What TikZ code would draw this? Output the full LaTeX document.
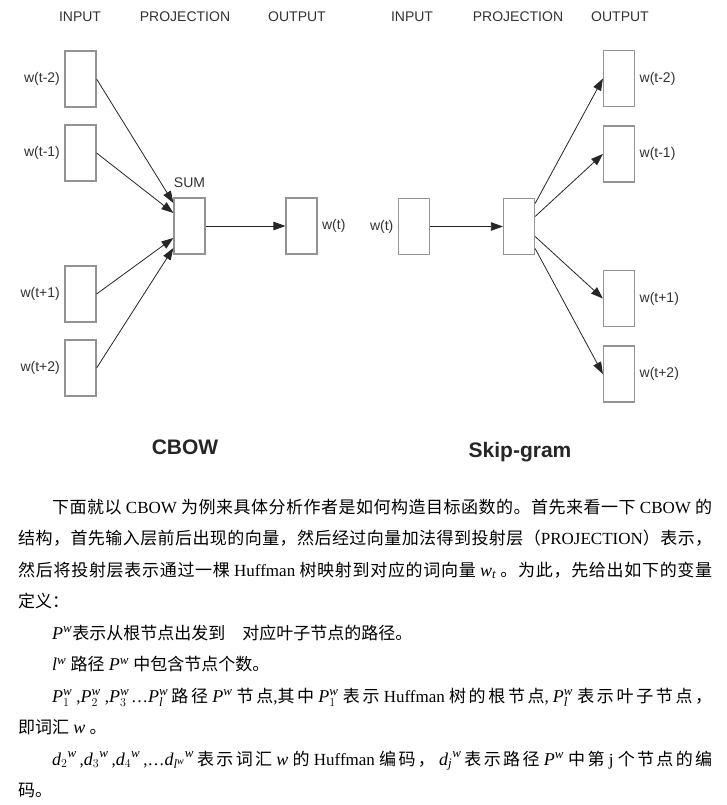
\documentclass[tikz,border=0pt]{standalone}
\usepackage{fontspec}
\setmainfont{Liberation Serif}
\newfontfamily\arialfont{Liberation Sans}
\newfontfamily\cjk{Noto Sans CJK SC}
\usetikzlibrary{positioning, arrows.meta}
% math letters in the text serif
\DeclareSymbolFont{letters}{TU}{\rmdefault}{m}{it}
\DeclareSymbolFont{operators}{TU}{\rmdefault}{m}{n}
\DeclareMathSizes{17}{18}{13}{10}
% stretchable glue between Chinese characters
\XeTeXinterchartokenstate=1
\newcommand{\cjkrange}[2]{\count255=#1
  \loop\XeTeXcharclass\count255=7 \ifnum\count255<#2 \advance\count255 by 1 \repeat}
\cjkrange{"4E00}{"9FFF}
\cjkrange{"3000}{"303F}
\cjkrange{"FF00}{"FF60}
\XeTeXinterchartoks 7 7 = {\hskip0pt plus 1fil\relax}
\newcommand{\zh}[1]{{\cjk #1}}
\newcommand{\jline}[2]{\hbox to #1pt{#2}}

\begin{document}
\begin{tikzpicture}[x=1pt, y=-1pt,
    vec/.style={draw=gray!85, line width=1.2pt, minimum width=31pt,
                minimum height=56pt, inner sep=0pt},
    hd/.style={font=\arialfont\fontsize{14}{16}\selectfont, text=black!80},
    conn/.style={-{Triangle[length=12pt,width=8.5pt]}, line width=0.8pt, black!85},
    capt/.style={font=\arialfont\bfseries\fontsize{21}{24}\selectfont, text=black!85},
    txt/.style={anchor=base west, inner sep=0pt, font=\fontsize{17}{20}\selectfont},
    label distance=1pt]
  \useasboundingbox (0,0) rectangle (726,805);
  \fill[white] (0,0) rectangle (726,805);

  % CBOW
  \node[hd] (hin) at (80,17) {INPUT};
  \node[hd] (hproj) at (185,17) {PROJECTION};
  \node[hd] (hout) at (297,17) {OUTPUT};
  \foreach \y/\n/\lbl in {79/cm2/w(t-2), 153/cm1/w(t-1), 294/cp1/w(t+1), 368/cp2/w(t+2)}{
    \node[vec, label={[hd]left:\lbl}] (\n) at (80.5,\y) {};
  }
  \node[vec, label={[hd, label distance=6pt]above:SUM}] (sum) at (189.5,226) {};
  \node[vec, label={[hd]right:w(t)}] (cout) at (301.5,226) {};
  \draw[conn] (cm2.east) -- ([yshift=23pt]sum.west);
  \draw[conn] (cm1.east) -- ([yshift=13pt]sum.west);
  \draw[conn] (cp1.east) -- ([yshift=-12pt]sum.west);
  \draw[conn] (cp2.east) -- ([yshift=-22pt]sum.west);
  \draw[conn] (sum.east) -- (cout.west);
  \node[capt] (cbow) at (185,447) {CBOW};

  % Skip-gram
  \node[hd] (sin) at (412,17) {INPUT};
  \node[hd] (sproj) at (518,17) {PROJECTION};
  \node[hd] (sout) at (620,17) {OUTPUT};
  \node[vec, label={[hd]left:w(t)}] (win) at (414,226.5) {};
  \node[vec] (proj) at (519,226.5) {};
  \foreach \y/\n/\lbl in {78.5/sm2/w(t-2), 154/sm1/w(t-1), 298.5/sp1/w(t+1), 374/sp2/w(t+2)}{
    \node[vec, label={[hd]right:\lbl}] (\n) at (619,\y) {};
  }
  \draw[conn] (win.east) -- (proj.west);
  \draw[conn] ([yshift=23pt]proj.east) -- (sm2.west);
  \draw[conn] ([yshift=10pt]proj.east) -- (sm1.west);
  \draw[conn] ([yshift=-10pt]proj.east) -- (sp1.west);
  \draw[conn] ([yshift=-22pt]proj.east) -- (sp2.west);
  \node[capt] (skip) at (520,452) {Skip-gram};

  % text below
  \node[txt] (t1) at (52,513) {\jline{660}{\zh{下面就以} CBOW \zh{为例来具体分析作者是如何构造目标函数的。首先来看一下} CBOW \zh{的}}};
  \node[txt] (t2) at (18,544.5) {\jline{694}{\zh{结构，首先输入层前后出现的向量，然后经过向量加法得到投射层（}PROJECTION\zh{）表示，}}};
  \node[txt] (t3) at (18,576) {\jline{694}{\zh{然后将投射层表示通过一棵} Huffman \zh{树映射到对应的词向量} $w_t$ \zh{。为此，先给出如下的变量}}};
  \node[txt] (t4) at (18,607.5) {\zh{定义：}};
  \node[txt] (t5) at (52,639) {$P^w$\zh{表示从根节点出发到}\hspace{17pt}\zh{对应叶子节点的路径。}};
  \node[txt] (t6) at (52,670.5) {$l^w$ \zh{路径} $P^w$ \zh{中包含节点个数。}};
  \node[txt] (t7) at (52,702) {\jline{660}{$P_1^w$\kern4pt,$P_2^w$\kern4pt,$P_3^w$\kern2pt\dots$P_l^w$\kern3pt\zh{路径} $P^w$ \zh{节点},\zh{其中} $P_1^w$ \zh{表示} Huffman \zh{树的根节点},\kern4pt$P_l^w$ \zh{表示叶子节点，}}};
  \node[txt] (t8) at (18,733.5) {\zh{即词汇} $w$ \zh{。}};
  \node[txt] (t9) at (52,765) {\jline{660}{${d_2}^w$\kern3pt,${d_3}^w$\kern3pt,${d_4}^w$\kern3pt,\dots${d_{l^w}}^w$\kern3pt\zh{表示词汇} $w$ \zh{的} Huffman \zh{编码，}\ ${d_j}^w$\kern3pt\zh{表示路径} $P^w$ \zh{中第} j \zh{个节点的编}}};
  \node[txt] (t10) at (18,796.5) {\zh{码。}};
\end{tikzpicture}
\end{document}
